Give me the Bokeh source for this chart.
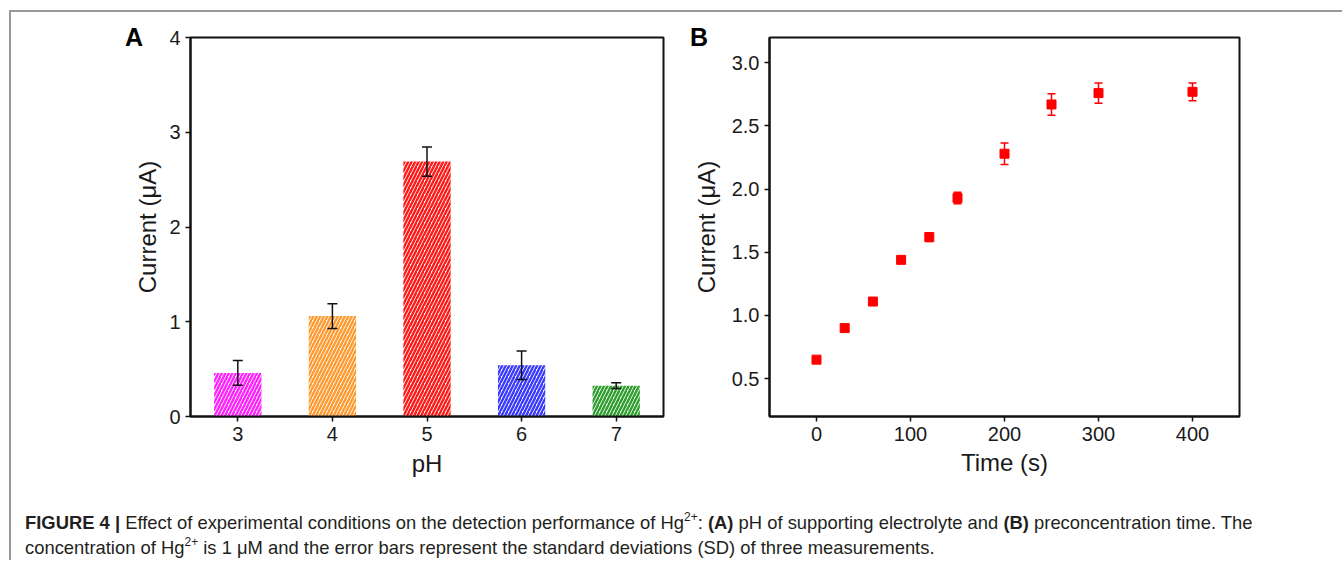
from bokeh.plotting import figure
from bokeh.models import (ColumnDataSource, Whisker, TeeHead, FixedTicker,
                          PrintfTickFormatter, Range1d, Div)
from bokeh.layouts import row, column
from bokeh.embed import file_html
from bokeh.resources import INLINE

# ---------------- data ----------------
ph_values = [3, 4, 5, 6, 7]
ph_current = [0.46, 1.06, 2.69, 0.54, 0.325]
ph_sd = [0.13, 0.13, 0.155, 0.15, 0.03]
ph_colors = ["#FF22FF", "#FF9A30", "#FF1A1A", "#3A3AFF", "#2E9E2E"]

time_s = [0, 30, 60, 90, 120, 150, 200, 250, 300, 400]
time_current = [0.65, 0.90, 1.11, 1.44, 1.62, 1.93, 2.28, 2.67, 2.76, 2.77]
time_sd = [0.02, 0.02, 0.02, 0.02, 0.035, 0.045, 0.085, 0.085, 0.08, 0.07]

ph_ticks = [3, 4, 5, 6, 7]
ph_yticks = [0, 1, 2, 3, 4]
time_xticks = [0, 100, 200, 300, 400]
time_yticks = [0.5, 1.0, 1.5, 2.0, 2.5, 3.0]

FONT = "Liberation Sans"
TXT = "#1a1a1a"


def style(p, ylab_standoff, xlab_standoff):
    p.outline_line_color = "#111111"
    p.outline_line_width = 2
    p.background_fill_color = "white"
    p.border_fill_color = None
    p.xgrid.visible = False
    p.ygrid.visible = False
    for ax in (p.xaxis[0], p.yaxis[0]):
        ax.axis_line_color = "#111111"
        ax.axis_line_width = 2
        ax.major_tick_line_color = "#111111"
        ax.major_tick_line_width = 1.5
        ax.major_tick_out = 5
        ax.major_tick_in = 0
        ax.minor_tick_line_color = None
        ax.major_label_text_font = FONT
        ax.major_label_text_font_size = "20px"
        ax.major_label_text_color = TXT
        ax.major_label_standoff = 5
        ax.axis_label_text_font = FONT
        ax.axis_label_text_font_size = "24px"
        ax.axis_label_text_font_style = "normal"
        ax.axis_label_text_color = TXT
    p.yaxis[0].axis_label_standoff = ylab_standoff
    p.xaxis[0].axis_label_standoff = xlab_standoff


# ---------------- panel A ----------------
srcA = ColumnDataSource(dict(
    x=ph_values, top=ph_current,
    upper=[v + s for v, s in zip(ph_current, ph_sd)],
    lower=[v - s for v, s in zip(ph_current, ph_sd)],
    color=ph_colors))

pA = figure(width=678, height=498, output_backend="svg", toolbar_location=None,
            x_range=Range1d(2.5, 7.5), y_range=Range1d(0, 4),
            min_border_left=179, min_border_right=26,
            min_border_top=25, min_border_bottom=92)
pA.vbar(x="x", top="top", width=0.5, source=srcA, fill_color="white",
        line_color=None, hatch_pattern="/", hatch_color="color",
        hatch_scale=7, hatch_weight=2.4)
pA.add_layout(Whisker(source=srcA, base="x", upper="upper", lower="lower",
                      line_color="#111111", line_width=1.5, level="overlay",
                      upper_head=TeeHead(size=10, line_color="#111111", line_width=1.5),
                      lower_head=TeeHead(size=10, line_color="#111111", line_width=1.5)))
style(pA, 5, 6)
pA.xaxis[0].ticker = FixedTicker(ticks=ph_ticks)
pA.yaxis[0].ticker = FixedTicker(ticks=ph_yticks)
pA.xaxis[0].axis_label = "pH"
pA.yaxis[0].axis_label = "Current (μA)"

# ---------------- panel B ----------------
srcB = ColumnDataSource(dict(
    x=time_s, y=time_current,
    upper=[v + s for v, s in zip(time_current, time_sd)],
    lower=[v - s for v, s in zip(time_current, time_sd)]))

pB = figure(width=580, height=498, output_backend="svg", toolbar_location=None,
            x_range=Range1d(-50, 450), y_range=Range1d(0.2, 3.2),
            min_border_left=79, min_border_right=30,
            min_border_top=25, min_border_bottom=94)
pB.add_layout(Whisker(source=srcB, base="x", upper="upper", lower="lower",
                      line_color="#FF0000", line_width=1.5, level="glyph",
                      upper_head=TeeHead(size=8, line_color="#FF0000", line_width=1.5),
                      lower_head=TeeHead(size=8, line_color="#FF0000", line_width=1.5)))
pB.scatter(x="x", y="y", source=srcB, marker="square", size=9,
           fill_color="#FF0000", line_color="#FF0000")
style(pB, 9, 5)
pB.xaxis[0].ticker = FixedTicker(ticks=time_xticks)
pB.yaxis[0].ticker = FixedTicker(ticks=time_yticks)
pB.yaxis[0].formatter = PrintfTickFormatter(format="%.1f")
pB.xaxis[0].axis_label = "Time (s)"
pB.yaxis[0].axis_label = "Current (μA)"

# ---------------- panel letters (overlaid, take no layout space) ----------------
LETTER = ('<div style="font-family:\'Liberation Sans\',Arial,sans-serif;font-weight:bold;'
          'font-size:25px;line-height:25px;color:#000;padding-left:{pl}px;padding-top:13px">{t}</div>')
divA = Div(text=LETTER.format(pl=114, t="A"), width=150, height=45, margin=(0, -150, 0, 0))
divB = Div(text=LETTER.format(pl=1, t="B"), width=40, height=45, margin=(0, -40, 0, 0))

# ---------------- caption ----------------
sup = '<sup style="font-size:12px;line-height:0;vertical-align:8px">2+</sup>'
caption_html = (
    '<div style="font-family:\'Liberation Sans\',Arial,sans-serif;font-size:18.4px;'
    'line-height:25px;color:#231f20;white-space:nowrap;padding-left:14px">'
    '<b>FIGURE 4 |</b> Effect of experimental conditions on the detection performance of Hg'
    + sup + ': <b>(A)</b> pH of supporting electrolyte and <b>(B)</b> preconcentration time. The<br>'
    'concentration of Hg' + sup + ' is 1 μM and the error bars represent the standard '
    'deviations (SD) of three measurements.</div>')
cap = Div(text=caption_html, width=1300, height=50, margin=(0, 0, 0, 0))

layout = column(row(divA, pA, divB, pB), cap, width=1333, margin=(10, 0, 0, 9),
                styles={"border-top": "2px solid #999999",
                        "border-left": "2px solid #999999"})

open("out.html", "w").write(file_html(layout, INLINE))
